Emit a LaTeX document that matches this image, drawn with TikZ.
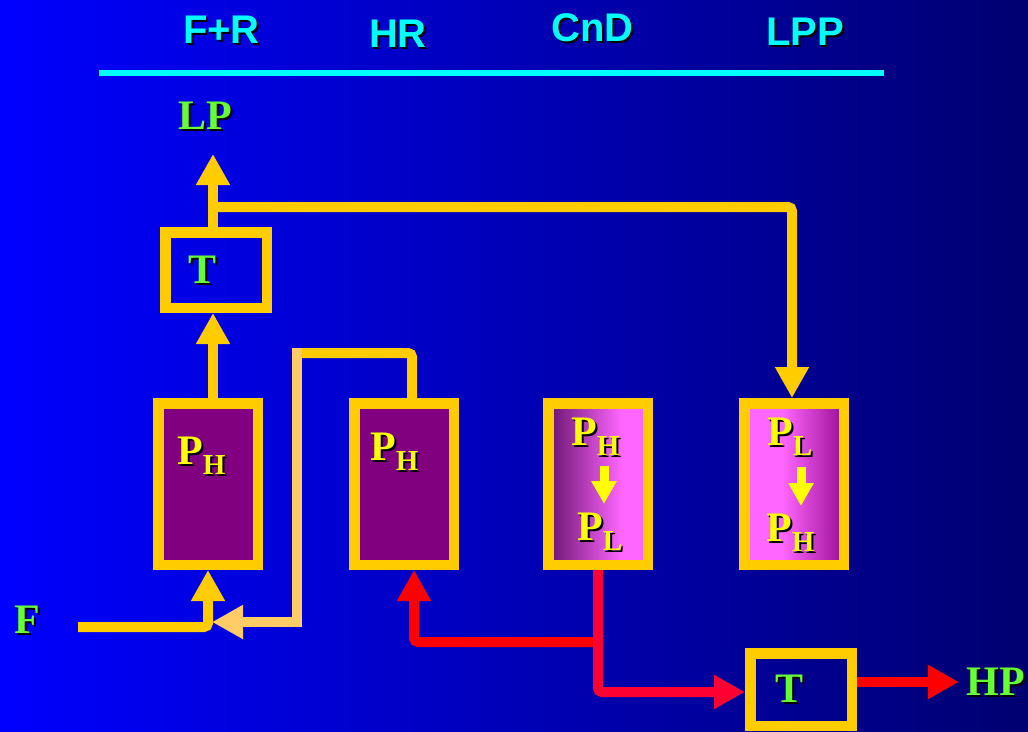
\documentclass[tikz,border=0pt]{standalone}
\usepackage{fontspec}
\setmainfont{Liberation Serif}
\newfontfamily\headfont{Liberation Sans}
\usetikzlibrary{arrows.meta}
\definecolor{ylw}{HTML}{FFCC00}
\definecolor{lorange}{HTML}{FFCC66}
\definecolor{grn}{HTML}{66FF33}
\definecolor{cyn}{HTML}{00FFFF}
\definecolor{pur}{HTML}{800080}
\definecolor{dpur}{HTML}{6A1470}
\definecolor{pinkc}{HTML}{FF66FF}
\definecolor{rpur}{HTML}{9A1094}
\definecolor{redA}{HTML}{FF0000}
\definecolor{redB}{HTML}{FF0033}
\definecolor{pyel}{HTML}{FFFF00}
\definecolor{bgL}{HTML}{0000FF}
\definecolor{bgR}{HTML}{000070}
\pgfdeclarehorizontalshading{cndshade}{100bp}{color(0bp)=(dpur); color(25bp)=(dpur); color(62bp)=(pinkc); color(100bp)=(pinkc)}
\pgfdeclarehorizontalshading{lppshade}{100bp}{color(0bp)=(pinkc); color(25bp)=(pinkc); color(44bp)=(pinkc); color(75bp)=(rpur); color(100bp)=(rpur)}
\newcommand\shad[2]{\makebox[0pt][l]{\hspace{2pt}\raisebox{-2pt}{\color{black}#2}}{\color{#1}#2}}
\newcommand\Psub[1]{P\raisebox{-10.5pt}{\fontsize{29}{29}\selectfont #1}}
\tikzset{
  bigtip/.tip={Triangle[length=31pt,width=32pt]},
  smalltip/.tip={Triangle[length=23pt,width=24pt]},
  stage/.style={draw=ylw, line width=10.5pt, minimum width=99.5pt, minimum height=161.5pt, inner sep=0pt},
  tbox/.style={draw=ylw, line width=10.5pt, minimum width=101.5pt, inner sep=0pt},
  lbl/.style={inner sep=0pt, font=\fontsize{42}{42}\selectfont\bfseries, anchor=base},
  psub/.style={inner sep=0pt, font=\fontsize{42}{42}\selectfont\bfseries, anchor=base west},
  head/.style={inner sep=0pt, font=\headfont\fontsize{40}{40}\selectfont\bfseries, anchor=base},
  ystream/.style={draw=ylw, line width=10pt, rounded corners=4pt},
  rstream/.style={line width=10pt, rounded corners=4pt},
}
\begin{document}
\begin{tikzpicture}[x=1pt,y=-1pt]
\fill[left color=bgL, right color=bgR] (0,0) rectangle (1028,731);
\useasboundingbox (0,0) rectangle (1028,731);
% header
\node[head] (hFR) at (221.5,43) {\shad{cyn}{F+R}};
\node[head] (hHR) at (398,47) {\shad{cyn}{HR}};
\node[head] (hCnD) at (592.5,41) {\shad{cyn}{CnD}};
\node[head] (hLPP) at (805,45) {\shad{cyn}{LPP}};
\coordinate (c0) at (99,73);
\coordinate (c1) at (884,73);
\draw[cyn, line width=6pt] (c0) -- (c1);
% boxes
\node[stage, fill=pur] (b1) at (208,484) {};
\node[stage, fill=pur] (b2) at (404,484) {};
\node[stage, shading=cndshade] (b3) at (598,484) {};
\node[stage, shading=lppshade] (b4) at (794,484) {};
\node[tbox, minimum height=75.5pt] (tt) at (216,270) {};
\node[tbox, minimum height=72.5pt] (tb) at (801,689.5) {};
% labels
\node[lbl] (lLP) at (205,129) {\shad{grn}{LP}};
\node[lbl] (lTt) at (202.5,283) {\shad{grn}{T}};
\node[lbl] (lF) at (27,633) {\shad{grn}{F}};
\node[lbl] (lHP) at (996,695) {\shad{grn}{HP}};
\node[lbl] (lTb) at (789,702) {\shad{grn}{T}};
\node[psub] (p1) at (177,464) {\shad{pyel}{\Psub{H}}};
\node[psub] (p2) at (370,460) {\shad{pyel}{\Psub{H}}};
\node[psub] (p3a) at (571,445) {\shad{pyel}{\Psub{H}}};
\node[psub] (p3b) at (577,540) {\shad{pyel}{\Psub{L}}};
\node[psub] (p4a) at (767,445) {\shad{pyel}{\Psub{L}}};
\node[psub] (p4b) at (766,541) {\shad{pyel}{\Psub{H}}};
% inner arrows
\coordinate (a3s) at (604,466);
\coordinate (a3e) at (604,504);
\coordinate (a4s) at (801,467);
\coordinate (a4e) at (801,506);
\draw[pyel, line width=9pt, -{smalltip}] (a3s) -- (a3e);
\draw[pyel, line width=9pt, -{smalltip}] (a4s) -- (a4e);
% yellow streams
\draw[ystream, -{bigtip}] ([xshift=5pt]b1.north) -- ([xshift=-3pt]tt.south);
\coordinate (lpt) at (213,154);
\draw[ystream, -{bigtip}] ([xshift=-3pt]tt.north) -- (lpt);
\coordinate (j1) at (213,207);
\draw[ystream, -{bigtip}] (j1) -| ([xshift=-2pt]b4.north);
\coordinate (f0) at (78,627);
\draw[ystream, -{bigtip}] (f0) -| (b1.south);
% recycle
\coordinate (r1) at (302,353);
\draw[ystream] ([xshift=8pt]b2.north) |- (r1);
\coordinate (r2) at (297,348);
\coordinate (r3) at (297,622);
\coordinate (r4) at (212,622);
\draw[draw=lorange, line width=10pt, -{bigtip}] (r2) -- (r3) -- (r4);
% red streams
\coordinate (jr) at (598,642);
\draw[rstream, draw=redA, -{bigtip}] (jr) -| ([xshift=10pt]b2.south);
\draw[rstream, draw=redB, -{bigtip}] (b3.south) |- ([yshift=-2.5pt]tb.west);
\coordinate (hpt) at (959,682);
\draw[rstream, draw=redA, -{bigtip}] ([yshift=7.5pt]tb.east) -- (hpt);
\end{tikzpicture}
\end{document}
